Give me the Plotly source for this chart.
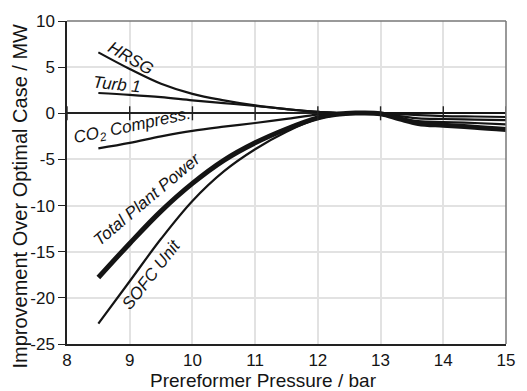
import plotly.graph_objects as go

# ---- data ----
pressure = [8.5, 9, 9.5, 10, 10.5, 11, 11.5, 12, 12.3, 12.6, 13, 13.3, 13.6, 14, 14.5, 15]
hrsg = [6.6, 4.8, 3.2, 2.1, 1.4, 0.85, 0.45, 0.15, 0.06, 0.0, -0.05, -0.3, -0.55, -0.62, -0.68, -0.75]
turb1 = [2.2, 2.0, 1.75, 1.4, 1.1, 0.8, 0.45, 0.15, 0.06, 0.0, 0.0, 0.02, 0.03, 0.03, 0.03, 0.03]
co2_compress = [-3.8, -3.2, -2.5, -1.9, -1.45, -1.05, -0.6, -0.15, -0.06, 0.0, 0.0, -0.1, -0.2, -0.3, -0.35, -0.4]
sofc_unit = [-22.8, -18.2, -13.6, -9.5, -6.3, -3.9, -2.0, -0.6, -0.2, 0.0, -0.05, -0.5, -0.85, -0.95, -1.05, -1.2]
total_plant = [-17.8, -14.1, -10.6, -7.6, -5.1, -3.2, -1.7, -0.5, -0.12, 0.02, -0.05, -0.6, -1.1, -1.3, -1.5, -1.75]

x_ticks = [8, 9, 10, 11, 12, 13, 14, 15]
y_ticks = [10, 5, 0, -5, -10, -15, -20, -25]
y_tick_text = ["10", "5", "0", "-5", "-10", "-15", "-20", "-25"]

x_title = "Prereformer Pressure / bar"
y_title = "Improvement Over Optimal Case / MW"

# label texts with positions (data coords) and angles
labels = [
    ("HRSG", 9.02, 5.9, 30),
    ("Turb 1", 8.79, 3.1, 6),
    ("CO<sub>2</sub> Compress.", 9.05, -1.5, -12),
    ("Total Plant Power", 9.27, -9.3, -40),
    ("SOFC Unit", 9.35, -17.5, -52),
]

FONT = "Liberation Sans, Arial, sans-serif"
INK = "#141414"

fig = go.Figure()
series = [
    (hrsg, 2.2), (turb1, 2.2), (co2_compress, 2.2), (sofc_unit, 2.2), (total_plant, 5),
]
for ys, w in series:
    fig.add_trace(go.Scatter(x=pressure, y=ys, mode="lines",
                             line=dict(color=INK, width=w, shape="spline", smoothing=1.0),
                             showlegend=False, hoverinfo="skip"))

# small tick marks along the zero line
fig.add_trace(go.Scatter(x=x_ticks, y=[0] * len(x_ticks), mode="markers",
                         marker=dict(symbol="line-ns-open", size=10, color="#222",
                                     line=dict(color="#222", width=1.4)),
                         showlegend=False, hoverinfo="skip", cliponaxis=True))

for text, lx, ly, ang in labels:
    fig.add_annotation(x=lx, y=ly, xref="x", yref="y", text="<i>" + text + "</i>",
                       textangle=ang, showarrow=False,
                       font=dict(family=FONT, size=17, color=INK))

# axis titles as annotations (positioned like the reference)
fig.add_annotation(x=0.4475, y=-0.114, xref="paper", yref="paper", text=x_title,
                   showarrow=False, xanchor="center", yanchor="middle",
                   font=dict(family=FONT, size=19, color=INK))
fig.add_annotation(x=-0.106, y=0.458, xref="paper", yref="paper", text=y_title,
                   showarrow=False, xanchor="center", yanchor="middle", textangle=-90,
                   font=dict(family=FONT, size=20, color=INK))

ymin, ymax = -25, 10
fig.update_layout(
    width=527, height=391,
    margin=dict(l=67, r=12, t=19, b=47),
    paper_bgcolor="white", plot_bgcolor="white",
    font=dict(family=FONT, color=INK),
    xaxis=dict(range=[8, 15], tickvals=x_ticks, showgrid=True, gridcolor="#e2e2e2", gridwidth=1.5,
               showline=True, linecolor="#222", linewidth=1.5, ticks="",
               tickfont=dict(size=17), zeroline=False),
    yaxis=dict(range=[ymin, ymax], tickvals=y_ticks, ticktext=y_tick_text,
               showgrid=True, gridcolor="#e2e2e2", gridwidth=1.5,
               showline=True, linecolor="#222", linewidth=1.5,
               ticks="outside", ticklen=7, tickcolor="#222", tickwidth=1.3,
               tickfont=dict(size=17),
               zeroline=True, zerolinecolor="#222", zerolinewidth=1.5),
)

# gray frame on top and right
fig.add_shape(type="line", xref="paper", yref="paper", x0=0, x1=1, y0=1, y1=1,
              line=dict(color="#777", width=1.5))
fig.add_shape(type="line", xref="paper", yref="paper", x0=1, x1=1, y0=0, y1=1,
              line=dict(color="#777", width=1.5))

fig.write_html("out.html")
